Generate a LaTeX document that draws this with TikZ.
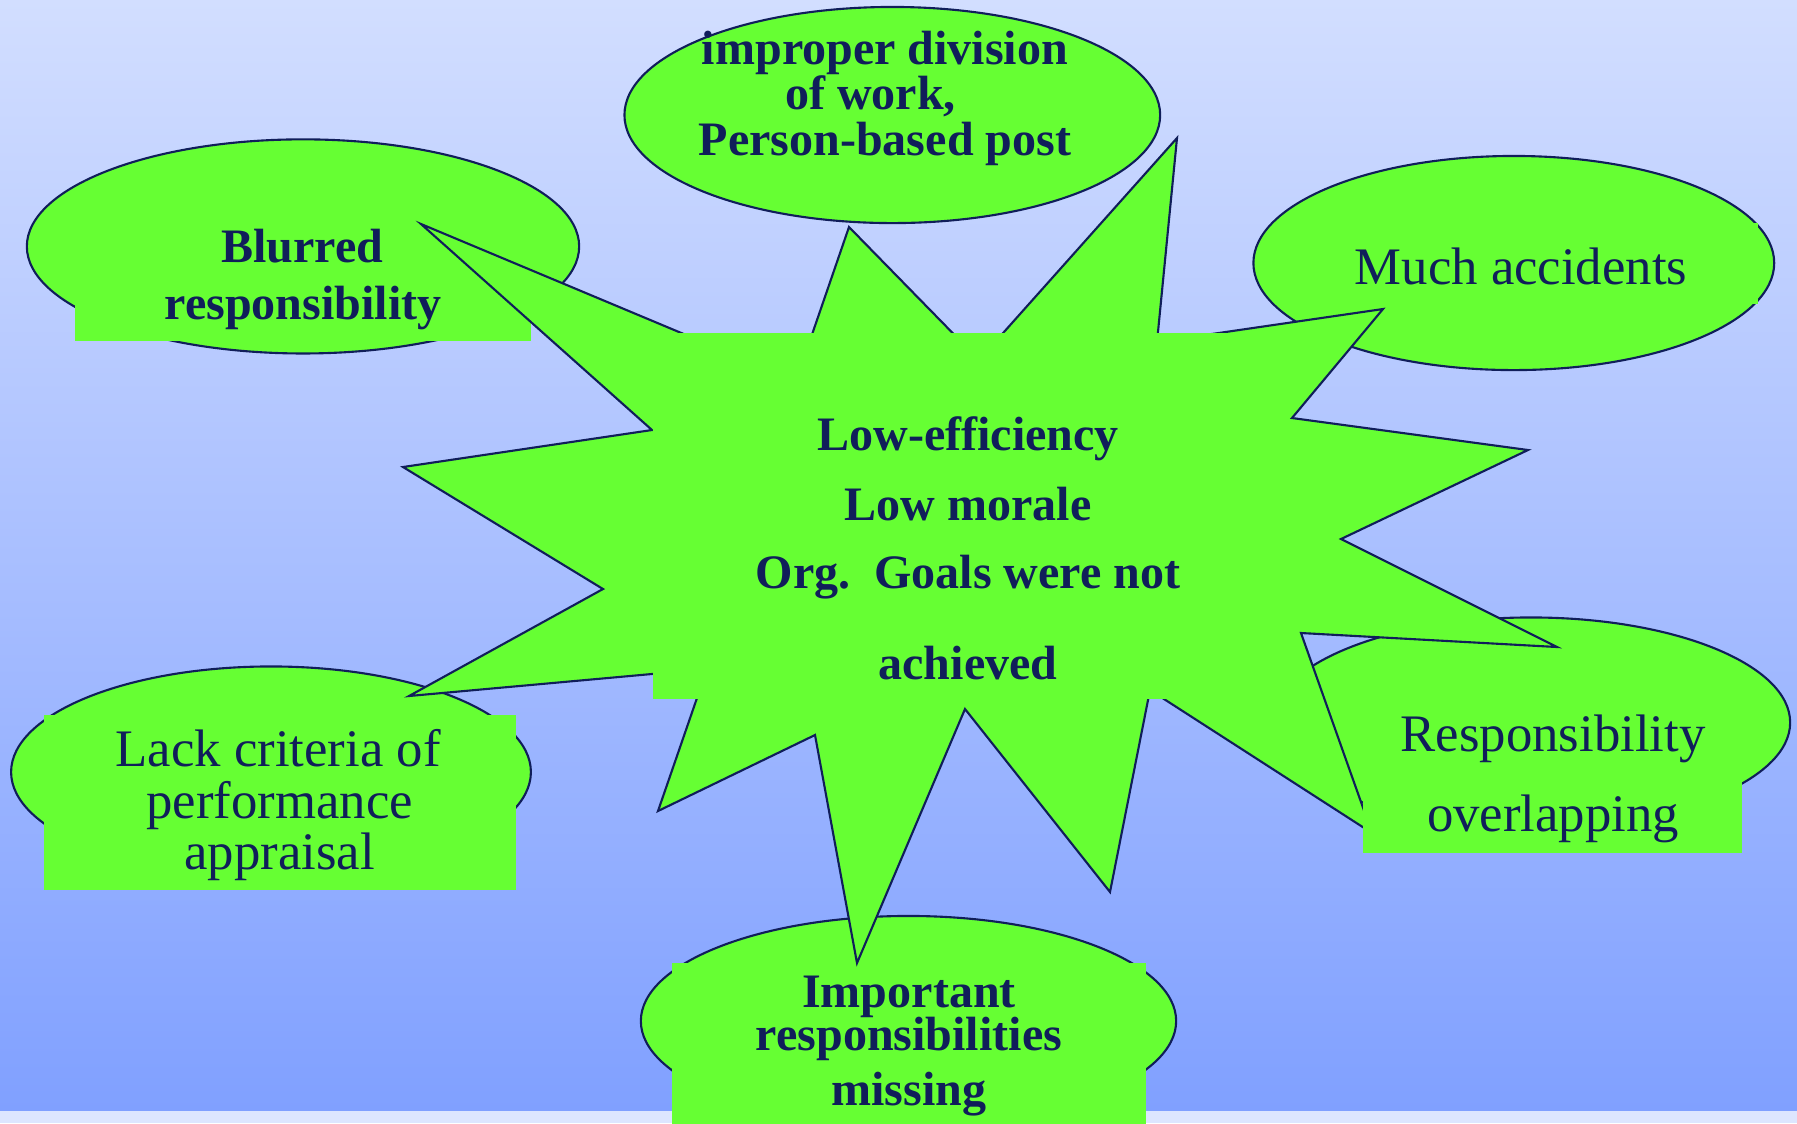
\documentclass[tikz,border=0pt]{standalone}
\usepackage{fontspec}
\setmainfont{Liberation Serif}
\usetikzlibrary{shapes.geometric}

\definecolor{bgtop}{RGB}{210,222,255}
\definecolor{bgbot}{RGB}{128,160,255}
\definecolor{bgstrip}{RGB}{221,230,255}
\definecolor{leaf}{RGB}{102,255,51}
\definecolor{ink}{RGB}{16,30,90}

\begin{document}
\begin{tikzpicture}[x=0.01cm, y=-0.01cm,
  bubble/.style={ellipse, draw=ink, line width=0.6pt, fill=leaf, inner sep=0pt},
  patch/.style={rectangle, fill=leaf, draw=none, inner sep=0pt},
  burst/.style={draw=ink, line width=0.6pt, fill=leaf, line join=miter},
  boldtxt/.style={anchor=base, inner sep=0pt, text=ink,
    font=\fontsize{13.66pt}{16pt}\selectfont\bfseries},
  plaintxt/.style={anchor=base, inner sep=0pt, text=ink,
    font=\fontsize{15pt}{18pt}\selectfont}]

% canvas
\useasboundingbox (0,0) rectangle (1797,1123);
\shade[top color=bgtop, bottom color=bgbot] (0,0) rectangle (1797,1111);
\fill[bgstrip] (0,1111) rectangle (1797,1123);

% outer bubbles
\node[bubble, minimum width=5.354cm, minimum height=2.16cm] (division) at (892.3,115) {};
\node[bubble, minimum width=5.52cm, minimum height=2.14cm] (blurred) at (303,246.4) {};
\node[bubble, minimum width=5.205cm, minimum height=2.14cm] (accidents) at (1513.8,263) {};
\node[bubble, minimum width=5.195cm, minimum height=2.11cm] (criteria) at (271,772) {};
\node[bubble, minimum width=5.35cm, minimum height=2.10cm] (missing) at (908.5,1021) {};
\node[bubble, minimum width=5.18cm, minimum height=2.10cm] (overlap) at (1531,722.5) {};

% text backing patches under the burst
\node[patch, minimum width=4.56cm, minimum height=0.66cm] (blurredpatch) at (303,308) {};
\node[patch, minimum width=4.74cm, minimum height=0.81cm] (accidentspatch) at (1521,263.5) {};
\node[patch, minimum width=4.72cm, minimum height=1.741cm] (criteriapatch) at (280,802.5) {};
\node[patch, minimum width=4.74cm, minimum height=1.80cm] (missingpatch) at (909,1053) {};

% central burst
\draw[burst] (421,224) -- (796,381) -- (849,227) -- (979,360) -- (1177,138)
  -- (1157,342) -- (1383,309) -- (1292,418) -- (1528,450) -- (1341,539)
  -- (1557,647) -- (1301,633) -- (1372,833) -- (1150,690) -- (1110,892)
  -- (965,709) -- (857,963) -- (815,735) -- (658,811) -- (707,669)
  -- (409,696) -- (603,589) -- (403,467) -- (652,430) -- cycle;

% text backing patches over the burst
\node[patch, minimum width=5.87cm, minimum height=3.66cm] (centerpatch) at (946.5,516) {};
\node[patch, minimum width=3.79cm, minimum height=1.53cm] (overlappatch) at (1552.5,776.5) {};

% labels
\node[boldtxt] (div1) at (885,64) {improper division};
\node[boldtxt] (div2) at (885,109) {of work,\kern0.6em\relax};
\node[boldtxt] (div3) at (885,155) {Person-based post};

\node[boldtxt] (blur1) at (302.5,262.5) {Blurred};
\node[boldtxt] (blur2) at (303,319.6) {responsibility};

\node[plaintxt] (acc1) at (1521,284) {Much accidents};

\node[boldtxt] (cen1) at (968,450) {Low-efficiency};
\node[boldtxt] (cen2) at (968,520.5) {Low morale};
\node[boldtxt] (cen3) at (968,588) {Org.~~Goals were not};
\node[boldtxt] (cen4) at (968,679) {achieved};

\node[plaintxt] (crit1) at (278,766.5) {Lack criteria of};
\node[plaintxt] (crit2) at (279.6,818) {performance};
\node[plaintxt] (crit3) at (279.6,869) {appraisal};

\node[boldtxt] (miss1) at (909,1007) {Important};
\node[boldtxt] (miss2) at (909,1050) {responsibilities};
\node[boldtxt] (miss3) at (909,1105.5) {missing};

\node[plaintxt] (ovl1) at (1553,751) {Responsibility};
\node[plaintxt] (ovl2) at (1553,831) {overlapping};
\end{tikzpicture}
\end{document}
